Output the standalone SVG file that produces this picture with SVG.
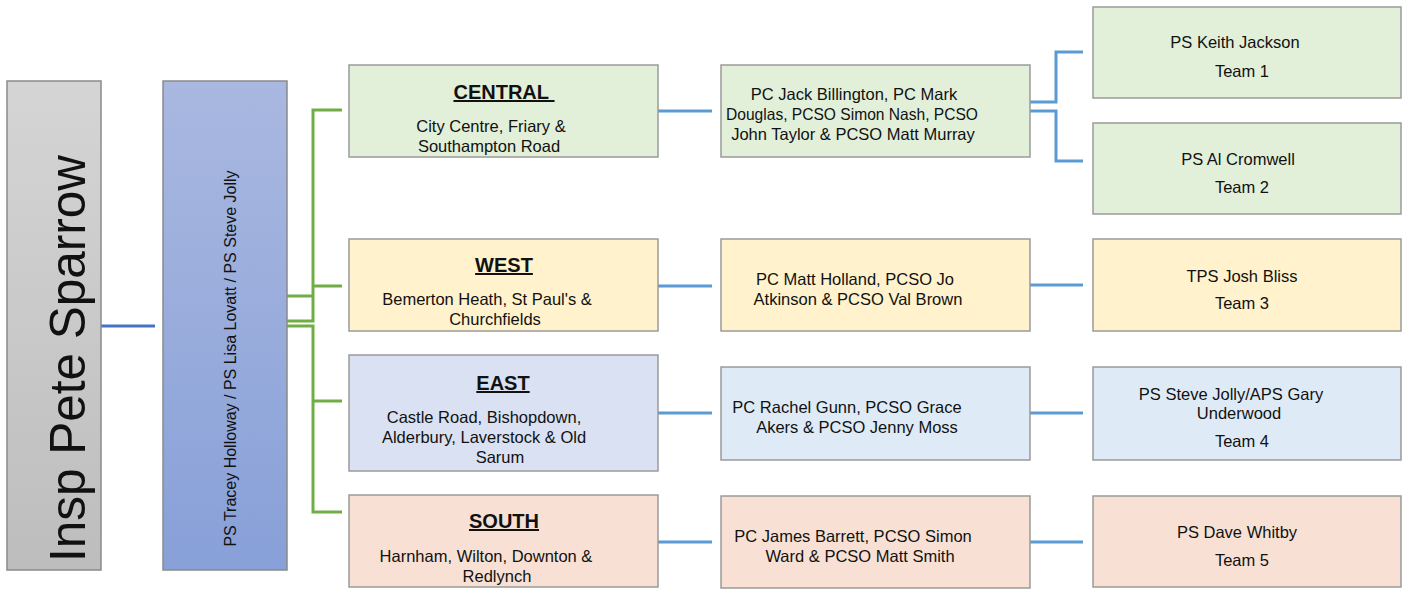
<svg xmlns="http://www.w3.org/2000/svg" width="1408" height="590" viewBox="0 0 1408 590">
<defs>
<linearGradient id="gGray" x1="0" y1="0" x2="0" y2="1"><stop offset="0" stop-color="#d5d5d5"/><stop offset="1" stop-color="#bdbdbd"/></linearGradient>
<linearGradient id="gBlue" x1="0" y1="0" x2="0" y2="1"><stop offset="0" stop-color="#a9b8e0"/><stop offset="1" stop-color="#88a0d8"/></linearGradient>
</defs>
<style>
.box{stroke:#9a9a9a;stroke-width:1.5}
.green{fill:#e2efd9}.yellow{fill:#fff2cc}.lav{fill:#d9e1f2}.ltblue{fill:#deebf7}.peach{fill:#f8e1d4}
text{font-family:"Liberation Sans",Arial,sans-serif;fill:#111}
.t{font-size:16.5px;text-anchor:middle}
.h{font-size:20px;font-weight:bold;text-anchor:middle;text-decoration:underline;white-space:pre}
.cg{fill:none;stroke:#70ad47;stroke-width:3}
.cb{fill:none;stroke:#5b9bd5;stroke-width:3}
.cd{fill:none;stroke:#4472c4;stroke-width:3}
</style>
<g id="connectors">
<path class="cd" d="M101,326H155"/>
<path class="cg" d="M287,296H313"/>
<path class="cg" d="M287,321H313V110H342"/>
<path class="cg" d="M313,286H342"/>
<path class="cg" d="M287,326H313V512H342"/>
<path class="cg" d="M313,401H342"/>
<path class="cb" d="M658,111H712"/>
<path class="cb" d="M658,286H712"/>
<path class="cb" d="M658,413H712"/>
<path class="cb" d="M658,542H712"/>
<path class="cb" d="M1030,102H1056V52H1083"/>
<path class="cb" d="M1030,111H1056V161H1083"/>
<path class="cb" d="M1030,285H1083"/>
<path class="cb" d="M1030,413H1083"/>
<path class="cb" d="M1030,542H1083"/>
</g>
<g id="insp">
<rect x="7" y="81" width="94" height="489" fill="url(#gGray)" stroke="#8a8a8a" stroke-width="1.5"/>
<text transform="translate(85,358.5) rotate(-90)" style="font-size:49.5px;text-anchor:middle">Insp Pete Sparrow</text>
</g>
<g id="sergeants">
<rect x="163" y="81" width="124" height="489" fill="url(#gBlue)" stroke="#8a8a8a" stroke-width="1.5"/>
<text transform="translate(236,358.5) rotate(-90)" class="t" style="font-size:16px">PS Tracey Holloway / PS Lisa Lovatt / PS Steve Jolly</text>
</g>
<g id="central">
<rect class="box green" x="349" y="65" width="309" height="92"/>
<text class="h" x="504" y="99">CENTRAL&#160;</text>
<text class="t" x="491" y="132">City Centre, Friary &amp;</text>
<text class="t" x="489" y="152">Southampton Road</text>
</g>
<g id="west">
<rect class="box yellow" x="349" y="239" width="309" height="92"/>
<text class="h" x="504" y="272">WEST</text>
<text class="t" x="487" y="305">Bemerton Heath, St Paul's &amp;</text>
<text class="t" x="495" y="325">Churchfields</text>
</g>
<g id="east">
<rect class="box lav" x="349" y="355" width="309" height="116"/>
<text class="h" x="503" y="390">EAST</text>
<text class="t" x="484" y="423">Castle Road, Bishopdown,</text>
<text class="t" x="484" y="443">Alderbury, Laverstock &amp; Old</text>
<text class="t" x="500" y="463">Sarum</text>
</g>
<g id="south">
<rect class="box peach" x="349" y="495" width="309" height="92"/>
<text class="h" x="504" y="528">SOUTH</text>
<text class="t" x="486" y="562">Harnham, Wilton, Downton &amp;</text>
<text class="t" x="497" y="582">Redlynch</text>
</g>
<g id="central-team">
<rect class="box green" x="721" y="65" width="309" height="92"/>
<text class="t" x="854" y="100">PC Jack Billington, PC Mark</text>
<text class="t" x="852" y="120" textLength="252" lengthAdjust="spacingAndGlyphs">Douglas, PCSO Simon Nash, PCSO</text>
<text class="t" x="853" y="140">John Taylor &amp; PCSO Matt Murray</text>
</g>
<g id="west-team">
<rect class="box yellow" x="721" y="239" width="309" height="92"/>
<text class="t" x="855" y="285">PC Matt Holland, PCSO Jo</text>
<text class="t" x="858" y="305">Atkinson &amp; PCSO Val Brown</text>
</g>
<g id="east-team">
<rect class="box ltblue" x="721" y="367" width="309" height="93"/>
<text class="t" x="847" y="413">PC Rachel Gunn, PCSO Grace</text>
<text class="t" x="857" y="433">Akers &amp; PCSO Jenny Moss</text>
</g>
<g id="south-team">
<rect class="box peach" x="721" y="496" width="309" height="92"/>
<text class="t" x="853" y="542">PC James Barrett, PCSO Simon</text>
<text class="t" x="860" y="562">Ward &amp; PCSO Matt Smith</text>
</g>
<g id="team1">
<rect class="box green" x="1093" y="7" width="308" height="91"/>
<text class="t" x="1235" y="48">PS Keith Jackson</text>
<text class="t" x="1242" y="77">Team 1</text>
</g>
<g id="team2">
<rect class="box green" x="1093" y="123" width="308" height="91"/>
<text class="t" x="1238" y="165">PS Al Cromwell</text>
<text class="t" x="1242" y="193">Team 2</text>
</g>
<g id="team3">
<rect class="box yellow" x="1093" y="239" width="308" height="92"/>
<text class="t" x="1242" y="282">TPS Josh Bliss</text>
<text class="t" x="1242" y="309">Team 3</text>
</g>
<g id="team4">
<rect class="box ltblue" x="1093" y="367" width="308" height="93"/>
<text class="t" x="1231" y="400">PS Steve Jolly/APS Gary</text>
<text class="t" x="1239" y="419">Underwood</text>
<text class="t" x="1242" y="447">Team 4</text>
</g>
<g id="team5">
<rect class="box peach" x="1093" y="496" width="308" height="91"/>
<text class="t" x="1237" y="538">PS Dave Whitby</text>
<text class="t" x="1242" y="566">Team 5</text>
</g>
</svg>
